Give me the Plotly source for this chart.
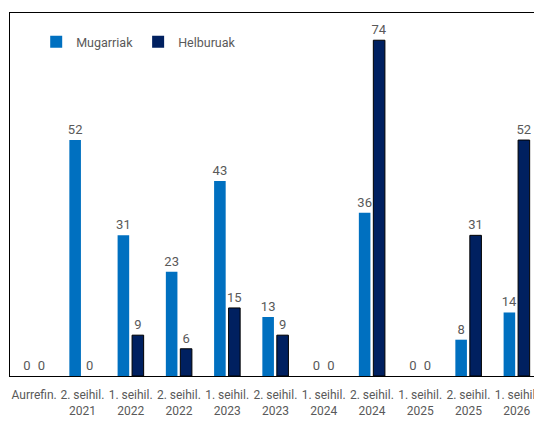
import plotly.graph_objects as go

categories = ["Aurrefin.", "2. seihil.<br>2021", "1. seihil.<br>2022", "2. seihil.<br>2022",
              "1. seihil.<br>2023", "2. seihil.<br>2023", "1. seihil.<br>2024", "2. seihil.<br>2024",
              "1. seihil.<br>2025", "2. seihil.<br>2025", "1. seihil.<br>2026"]
mugarriak = [0, 52, 31, 23, 43, 13, 0, 36, 0, 8, 14]
helburuak = [0, 0, 9, 6, 15, 9, 0, 74, 0, 31, 52]

FONT = "Roboto, sans-serif"
GRAY = "#595959"

fig = go.Figure()
fig.add_trace(go.Bar(
    x=categories, y=mugarriak, name="Mugarriak",
    marker=dict(color="#0070C0", line=dict(width=0)),
    text=[str(v) for v in mugarriak], textposition="outside", constraintext="none",
    textfont=dict(color=GRAY, size=13, family=FONT), cliponaxis=False,
))
fig.add_trace(go.Bar(
    x=categories, y=helburuak, name="Helburuak",
    marker=dict(color="#002060",
                line=dict(color="#000000", width=[1 if v else 0 for v in helburuak])),
    text=[str(v) for v in helburuak], textposition="outside", constraintext="none",
    textfont=dict(color=GRAY, size=13, family=FONT), cliponaxis=False,
))

fig.update_layout(
    width=534, height=421, autosize=False,
    margin=dict(l=10, r=0, t=13, b=45, autoexpand=False),
    paper_bgcolor="white", plot_bgcolor="white",
    barmode="group", bargap=0.4, bargroupgap=0.2,
    font=dict(family=FONT, size=12, color=GRAY),
    showlegend=True,
    legend=dict(orientation="h", x=0.05, y=0.92, xanchor="left", yanchor="middle",
                font=dict(size=12.5, color=GRAY, family=FONT), bgcolor="rgba(0,0,0,0)",
                itemwidth=30, traceorder="normal"),
)
fig.update_xaxes(
    type="category", range=[-0.5, 10.36], automargin=False,
    showline=True, linecolor="#000000", linewidth=1, mirror=True,
    showgrid=False, ticks="", ticklabelstandoff=8,
    tickfont=dict(size=12, color=GRAY, family=FONT), tickangle=0,
)
fig.update_yaxes(
    range=[0, 80], showline=True, linecolor="#000000", linewidth=1, automargin=False,
    showgrid=False, showticklabels=False, ticks="", zeroline=False,
)

fig.write_html("out.html", config={"displayModeBar": False},
               post_script="document.body.style.margin='0px';document.body.style.overflow='hidden';")
